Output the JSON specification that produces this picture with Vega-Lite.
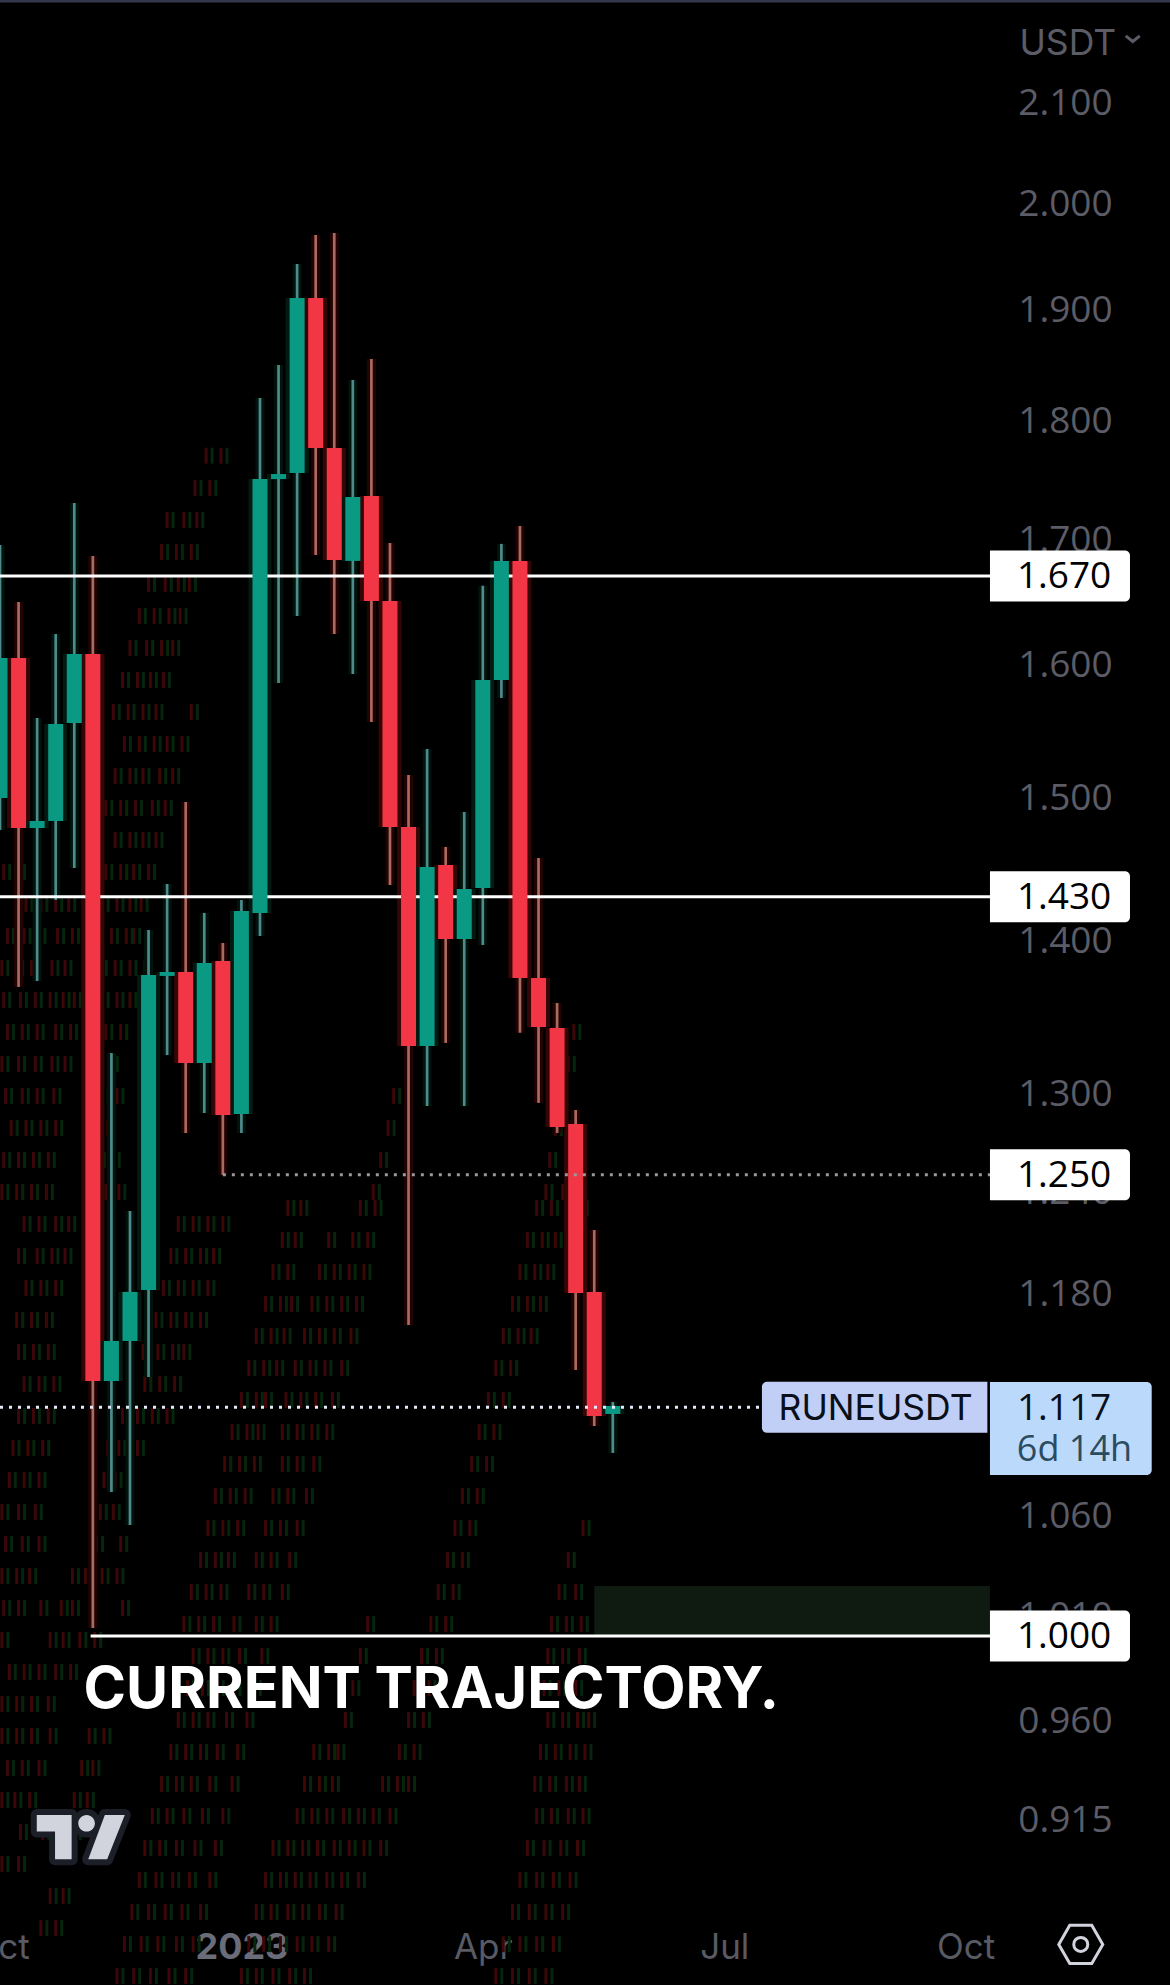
{
"$schema":"https://vega.github.io/schema/vega-lite/v6.json",
"width":1170,"height":1985,"autosize":{"type":"none"},"padding":0,"background":"#000000",
"config":{"view":{"stroke":null},"font":"Inter"},
"datasets":{
"ghost":[
{"price":1.770,"w":[11.1,11.9]},{"price":1.7426,"w":[10.5,11.3]},{"price":1.7158,"w":[9.0,9.9,10.6]},{"price":1.6895,"w":[8.7,9.5,10.3]},{"price":1.6636,"w":[8.0,8.9,9.6,10.2]},{"price":1.638,"w":[7.5,8.3,9.1,9.7]},{"price":1.6128,"w":[7.0,7.9,8.7,9.3]},{"price":1.588,"w":[6.6,7.4,8.1,8.8]},{"price":1.5636,"w":[6.1,6.9,7.7,8.4,10.3]},{"price":1.5396,"w":[6.7,7.5,8.3,9.0,9.8]},{"price":1.516,"w":[6.2,7.0,7.7,8.6,9.3]},{"price":1.4927,"w":[5.7,6.5,7.3,8.2,8.9]},{"price":1.4698,"w":[6.2,7.0,7.7,8.4]},{"price":1.4472,"w":[0.2,1.0,5.7,6.5,7.2,8.0]},{"price":1.425,"w":[1.4,2.2,3.0,3.7,5.5,6.3,7.0,7.6]},{"price":1.4031,"w":[0.4,1.3,2.1,3.1,3.9,6.0,6.8,7.2]},{"price":1.3815,"w":[0.1,0.9,1.7,2.8,3.5,5.4,6.2,7.0,7.8]},{"price":1.3603,"w":[0.2,1.1,1.9,2.7,3.4,4.0,5.5,6.3,7.0]},{"price":1.3394,"w":[0.4,1.2,2.0,3.0,3.8,5.7,6.5,30.9]},{"price":1.3188,"w":[0.1,1.0,1.9,2.8,3.5,5.2,6.0,30.6]},{"price":1.2986,"w":[0.3,1.2,2.0,2.9,5.5,6.3,21.2,30.1]},{"price":1.2786,"w":[0.6,1.4,2.2,3.0,5.0,5.8,20.9,29.9,30.8]},{"price":1.259,"w":[0.2,1.0,1.8,2.6,5.3,6.1,20.5,29.6,30.5]},{"price":1.2396,"w":[0.1,0.9,1.7,2.5,4.9,5.7,6.4,20.1,29.4,30.3]},{"price":1.2206,"w":[1.3,2.1,3.0,3.7,9.6,10.4,11.2,12.0]},{"price":1.2018,"w":[1.0,2.0,2.8,3.5,9.2,10.0,10.8,11.5]},{"price":1.1834,"w":[1.4,2.2,3.0,8.8,9.6,10.4,11.2]},{"price":1.1652,"w":[0.9,1.7,2.5,8.4,9.2,10.0,10.8]},{"price":1.1473,"w":[1.0,1.8,2.6,7.7,8.5,9.3,9.9]},{"price":1.1296,"w":[1.3,2.1,2.9,7.8,8.6,9.4]},{"price":1.1123,"w":[1.0,1.8,2.6,6.6,7.4,8.2,9.0]},{"price":1.0952,"w":[0.7,1.5,2.3,5.8,6.4,7.4]},{"price":1.0784,"w":[0.5,1.3,2.1,5.6,6.2]},{"price":1.0618,"w":[0.1,1.0,1.9,5.4,6.1]},{"price":1.0455,"w":[0.3,1.2,2.1,5.2,6.5]},{"price":1.0294,"w":[0.1,0.9,1.6,3.9,4.6,5.5,6.3]},{"price":1.0136,"w":[0.2,1.0,2.2,3.3,3.9,6.6]},{"price":0.9981,"w":[0.1,2.7,3.4,4.3,5.1]},{"price":0.9827,"w":[0.5,1.3,2.1,3.0,3.8]},{"price":0.9676,"w":[0.1,0.9,1.7,2.6]},{"price":0.9528,"w":[0.1,0.9,1.7,2.7,4.8,5.6]},{"price":0.9381,"w":[0.4,1.2,2.1,4.4,5.0]},{"price":0.9237,"w":[0.1,0.8,1.6,4.0,4.7]},{"price":0.9095,"w":[1.1,2.3,4.0]},{"price":0.8956,"w":[0.1,1.0]},{"price":0.8818,"w":[2.7,3.4]},{"price":0.8682,"w":[2.2,3.0]},
{"price":1.2301,"w":[15.5,16.2,19.4,20.2,28.9,29.7,30.6,31.3]},{"price":1.2112,"w":[15.2,15.9,17.7,19.0,19.8,28.4,29.2,29.9]},{"price":1.1926,"w":[14.7,15.5,17.2,18.0,18.8,19.6,28.0,28.8,29.5]},{"price":1.1743,"w":[14.3,15.1,15.7,16.8,17.6,18.4,19.2,27.6,28.4,29.1]},{"price":1.1562,"w":[13.8,14.6,15.3,16.4,17.2,18.0,18.9,27.1,27.9,28.6]},{"price":1.1384,"w":[13.4,14.2,14.9,15.9,16.7,17.5,18.4,26.7,27.5]},{"price":1.1209,"w":[13.0,13.8,14.3,15.4,16.2,17.0,17.9,26.3,27.1]},{"price":1.1037,"w":[12.5,13.3,13.9,15.2,16.0,16.8,17.6,25.8,26.6]},{"price":1.0868,"w":[12.1,12.9,13.7,15.2,16.0,16.9,25.4,26.2]},{"price":1.0701,"w":[11.6,12.4,13.2,14.7,15.5,16.5,24.9,25.7]},{"price":1.0536,"w":[11.2,12.0,12.8,14.3,15.1,16.0,24.5,25.3,31.4]},{"price":1.0374,"w":[10.8,11.6,12.3,13.8,14.6,15.6,24.1,24.9,30.6]},{"price":1.0215,"w":[10.3,11.1,11.9,13.4,14.2,15.2,23.6,24.4,30.1,31.0]},{"price":1.0058,"w":[9.9,10.7,11.5,12.6,13.8,14.6,19.8,23.2,24.0,29.7,30.5,31.3]},{"price":0.9904,"w":[10.4,11.2,12.0,12.9,14.1,19.4,22.7,23.5,29.5,30.3,31.2]},{"price":0.9751,"w":[10.1,10.9,11.7,12.6,13.7,19.0,22.3,23.1,29.3,30.1,31.0]},{"price":0.9602,"w":[9.6,10.4,11.2,12.2,13.3,18.6,22.0,22.8,29.5,30.3,31.1,31.7]},{"price":0.9454,"w":[9.2,10.0,10.8,11.7,12.8,16.9,17.7,18.2,21.5,22.3,29.1,29.9,30.7,31.5]},{"price":0.9309,"w":[8.7,9.5,10.3,11.3,12.5,16.4,17.2,17.9,20.6,21.4,22.0,28.8,29.6,30.5,31.2]},{"price":0.9166,"w":[8.2,9.0,9.9,10.9,12.0,16.0,16.8,17.6,18.5,19.3,20.1,21.0,28.9,29.7,30.6,31.4]},{"price":0.9025,"w":[7.8,8.6,9.5,10.5,11.6,14.7,15.5,16.3,17.1,18.0,18.8,19.6,20.5,28.4,29.3,30.2,31.1]},{"price":0.8887,"w":[7.5,8.4,9.3,10.2,11.3,14.3,15.1,15.9,16.7,17.6,18.4,19.3,28.0,28.9,29.8,30.7]},{"price":0.875,"w":[7.1,8.0,8.9,9.8,10.8,13.8,14.6,15.5,16.3,17.2,18.1,27.6,28.5,29.4,30.3]},{"price":0.8615,"w":[6.7,7.6,8.5,9.5,10.4,13.4,14.2,15.1,16.0,16.8,17.7,27.1,28.0,28.9,29.8]},{"price":0.8483,"w":[6.3,7.2,8.1,9.1,10.0,13.0,13.8,14.7,15.6,16.4,26.7,27.6,28.5,29.4]}
],
"candles":[
{"week":0,"open":1.4999,"high":1.6952,"low":1.4769,"close":1.6051},
{"week":1,"open":1.6051,"high":1.6491,"low":1.3689,"close":1.4783},
{"week":2,"open":1.4783,"high":1.5591,"low":1.3729,"close":1.4833},
{"week":3,"open":1.4833,"high":1.6238,"low":1.4277,"close":1.5546},
{"week":4,"open":1.5554,"high":1.73,"low":1.45,"close":1.6082},
{"week":5,"open":1.6082,"high":1.6862,"low":1.0039,"close":1.1313},
{"week":6,"open":1.1313,"high":1.3258,"low":1.0722,"close":1.1534},
{"week":7,"open":1.1534,"high":1.2283,"low":1.0552,"close":1.1811},
{"week":8,"open":1.1822,"high":1.4071,"low":1.1335,"close":1.3768},
{"week":9,"open":1.3762,"high":1.4388,"low":1.3245,"close":1.3788},
{"week":10,"open":1.3788,"high":1.497,"low":1.2755,"close":1.3194},
{"week":11,"open":1.3194,"high":1.4188,"low":1.2879,"close":1.3849},
{"week":12,"open":1.3862,"high":1.3983,"low":1.2499,"close":1.2867},
{"week":13,"open":1.2873,"high":1.4277,"low":1.2755,"close":1.4201},
{"week":14,"open":1.4188,"high":1.8201,"low":1.403,"close":1.7501},
{"week":15,"open":1.7501,"high":1.8495,"low":1.5858,"close":1.7544},
{"week":16,"open":1.7552,"high":1.9421,"low":1.638,"close":1.9104},
{"week":17,"open":1.9104,"high":1.9695,"low":1.6871,"close":1.7766},
{"week":18,"open":1.7766,"high":1.9714,"low":1.6238,"close":1.683},
{"week":19,"open":1.6822,"high":1.836,"low":1.5927,"close":1.735},
{"week":20,"open":1.7358,"high":1.8549,"low":1.5561,"close":1.6499},
{"week":21,"open":1.6499,"high":1.6969,"low":1.4381,"close":1.479},
{"week":22,"open":1.479,"high":1.5167,"low":1.1624,"close":1.3303},
{"week":23,"open":1.3303,"high":1.5359,"low":1.2923,"close":1.4507},
{"week":24,"open":1.4521,"high":1.4648,"low":1.3323,"close":1.401},
{"week":25,"open":1.401,"high":1.4898,"low":1.2923,"close":1.4353},
{"week":26,"open":1.436,"high":1.662,"low":1.397,"close":1.588},
{"week":27,"open":1.588,"high":1.6961,"low":1.5743,"close":1.6822},
{"week":28,"open":1.6822,"high":1.7109,"low":1.3388,"close":1.3748},
{"week":29,"open":1.3748,"high":1.457,"low":1.2942,"close":1.3426},
{"week":30,"open":1.342,"high":1.3583,"low":1.2755,"close":1.2792},
{"week":31,"open":1.2811,"high":1.2898,"low":1.1373,"close":1.1805},
{"week":32,"open":1.1811,"high":1.217,"low":1.1069,"close":1.1123},
{"week":33,"open":1.1134,"high":1.1199,"low":1.0926,"close":1.1177}
],
"solid":[{"start":0,"end":53.31,"price":1.67},{"start":0,"end":53.31,"price":1.43},{"start":4.88,"end":53.31,"price":1.0}],
"dotGray":[{"start":12,"end":53.31,"price":1.25}],
"dotBlue":[{"start":0,"end":41.03,"price":1.117}],
"boxes":[{"start":53.31,"end":60.85,"price":1.67,"mid":57.3},{"start":53.31,"end":60.85,"price":1.43,"mid":57.3},{"start":53.31,"end":60.85,"price":1.25,"mid":57.3},{"start":53.31,"end":60.85,"price":1.0,"mid":57.3}],
"zone":[{"start":32,"end":53.31,"low":1.0,"high":1.0245}]
},
"layer":[
{"data":{"name":"ghost"},"transform":[{"flatten":["w"]}],"mark":{"type":"tick","orient":"vertical","size":16,"thickness":3,"color":"#3c0707","opacity":1},
 "encoding":{"x":{"field":"w","type":"quantitative","title":null,"scale":{"domain":[0,63.005],"nice":false,"zero":false,"padding":0},
   "axis":{"orient":"bottom","offset":-38,"values":[0,13,26,39,52],"labelExpr":"datum.value==0?'Oct':datum.value==13?'2023':datum.value==26?'Apr':datum.value==39?'Jul':'Oct'","labelAlign":"center","labelBaseline":"middle","labelPadding":0,"ticks":false,"domain":false,"grid":false,"labelFont":"Inter","labelFontSize":{"condition":{"test":"datum.value==13","value":36},"value":35},"labelColor":{"condition":{"test":"datum.value==13","value":"#6a6c79"},"value":"#585a64"},"labelFontWeight":{"condition":{"test":"datum.value==13","value":"bold"},"value":"normal"},"labelOverlap":false,"labelFlush":false,"labelBound":false,"title":null}},
   "y":{"field":"price","type":"quantitative","title":null,"scale":{"type":"log","domain":[0.84464,2.2066],"nice":false,"zero":false,"padding":0},
   "axis":{"orient":"right","offset":-105,"values":[2.1,2.0,1.9,1.8,1.7,1.6,1.5,1.4,1.3,1.24,1.18,1.06,1.01,0.96,0.915],"format":".3f","labelAlign":"center","labelBaseline":"middle","labelPadding":0,"labelOffset":1,"ticks":false,"domain":false,"grid":false,"labelFont":"Open Sans","labelFontSize":37,"labelColor":"#5b5c66","labelOverlap":false,"labelFlush":false,"labelBound":false,"title":null}}}},
{"data":{"name":"ghost"},"transform":[{"flatten":["w"]}],"mark":{"type":"tick","orient":"vertical","size":16,"thickness":3,"color":"#06250c","opacity":1,"xOffset":6},
 "encoding":{"x":{"field":"w","type":"quantitative","title":null,"scale":{"domain":[0,63.005],"nice":false,"zero":false,"padding":0}},
  "y":{"field":"price","type":"quantitative","title":null,"scale":{"type":"log","domain":[0.84464,2.2066],"nice":false,"zero":false,"padding":0}}}},
{"data":{"name":"zone"},"mark":{"type":"rect","color":"#0f1a10"},
 "encoding":{"x":{"field":"start","type":"quantitative","title":null,"scale":{"domain":[0,63.005],"nice":false,"zero":false,"padding":0}},"x2":{"field":"end"},
  "y":{"field":"low","type":"quantitative","title":null,"scale":{"type":"log","domain":[0.84464,2.2066],"nice":false,"zero":false,"padding":0}},"y2":{"field":"high"}}},
{"data":{"name":"candles"},"mark":{"type":"rule","strokeWidth":9},
 "encoding":{"x":{"field":"week","type":"quantitative","title":null,"scale":{"domain":[0,63.005],"nice":false,"zero":false,"padding":0}},
  "y":{"field":"low","type":"quantitative","title":null,"scale":{"type":"log","domain":[0.84464,2.2066],"nice":false,"zero":false,"padding":0}},"y2":{"field":"high"},
  "color":{"condition":{"test":"datum.close>=datum.open","value":"#01130a"},"value":"#220303"}}},
{"data":{"name":"candles"},"mark":{"type":"bar","width":23,"orient":"vertical"},
 "encoding":{"x":{"field":"week","type":"quantitative","title":null,"scale":{"domain":[0,63.005],"nice":false,"zero":false,"padding":0}},
  "y":{"field":"open","type":"quantitative","title":null,"scale":{"type":"log","domain":[0.84464,2.2066],"nice":false,"zero":false,"padding":0}},"y2":{"field":"close"},
  "color":{"condition":{"test":"datum.close>=datum.open","value":"#021a12"},"value":"#360606"}}},
{"data":{"name":"candles"},"mark":{"type":"rule","strokeWidth":2.7},
 "encoding":{"x":{"field":"week","type":"quantitative","title":null,"scale":{"domain":[0,63.005],"nice":false,"zero":false,"padding":0}},
  "y":{"field":"low","type":"quantitative","title":null,"scale":{"type":"log","domain":[0.84464,2.2066],"nice":false,"zero":false,"padding":0}},"y2":{"field":"high"},
  "color":{"condition":{"test":"datum.close>=datum.open","value":"#4f8a8c"},"value":"#a96a5f"}}},
{"data":{"name":"solid"},"mark":{"type":"rule","strokeWidth":3,"color":"#ffffff"},
 "encoding":{"x":{"field":"start","type":"quantitative","title":null,"scale":{"domain":[0,63.005],"nice":false,"zero":false,"padding":0}},"x2":{"field":"end"},
  "y":{"field":"price","type":"quantitative","title":null,"scale":{"type":"log","domain":[0.84464,2.2066],"nice":false,"zero":false,"padding":0}}}},
{"data":{"name":"candles"},"mark":{"type":"bar","width":15,"orient":"vertical"},
 "encoding":{"x":{"field":"week","type":"quantitative","title":null,"scale":{"domain":[0,63.005],"nice":false,"zero":false,"padding":0}},
  "y":{"field":"open","type":"quantitative","title":null,"scale":{"type":"log","domain":[0.84464,2.2066],"nice":false,"zero":false,"padding":0}},"y2":{"field":"close"},
  "color":{"condition":{"test":"datum.close>=datum.open","value":"#0a9a84"},"value":"#F23645"}}},
{"data":{"name":"dotGray"},"mark":{"type":"rule","strokeWidth":3,"color":"#9a9a9a","strokeDash":[3,6]},
 "encoding":{"x":{"field":"start","type":"quantitative","title":null,"scale":{"domain":[0,63.005],"nice":false,"zero":false,"padding":0}},"x2":{"field":"end"},
  "y":{"field":"price","type":"quantitative","title":null,"scale":{"type":"log","domain":[0.84464,2.2066],"nice":false,"zero":false,"padding":0}}}},
{"data":{"name":"dotBlue"},"mark":{"type":"rule","strokeWidth":3,"color":"#e3e9fb","strokeDash":[3,6]},
 "encoding":{"x":{"field":"start","type":"quantitative","title":null,"scale":{"domain":[0,63.005],"nice":false,"zero":false,"padding":0}},"x2":{"field":"end"},
  "y":{"field":"price","type":"quantitative","title":null,"scale":{"type":"log","domain":[0.84464,2.2066],"nice":false,"zero":false,"padding":0}}}},
{"data":{"name":"boxes"},"mark":{"type":"bar","orient":"horizontal","height":51,"color":"#ffffff","cornerRadiusTopRight":5,"cornerRadiusBottomRight":5},
 "encoding":{"x":{"field":"start","type":"quantitative","title":null,"scale":{"domain":[0,63.005],"nice":false,"zero":false,"padding":0}},"x2":{"field":"end"},
  "y":{"field":"price","type":"quantitative","title":null,"scale":{"type":"log","domain":[0.84464,2.2066],"nice":false,"zero":false,"padding":0}}}},
{"data":{"name":"boxes"},"mark":{"type":"text","font":"Open Sans","fontSize":37,"color":"#000000","align":"center","baseline":"middle","dy":1},
 "encoding":{"x":{"field":"mid","type":"quantitative","title":null,"scale":{"domain":[0,63.005],"nice":false,"zero":false,"padding":0}},
  "y":{"field":"price","type":"quantitative","title":null,"scale":{"type":"log","domain":[0.84464,2.2066],"nice":false,"zero":false,"padding":0}},
  "text":{"field":"price","type":"quantitative","format":".3f"}}},
{"data":{"values":[{"start":41.03,"end":53.17,"price":1.117}]},"mark":{"type":"bar","orient":"horizontal","height":51,"color":"#c1cff7","cornerRadiusTopLeft":5,"cornerRadiusBottomLeft":5},
 "encoding":{"x":{"field":"start","type":"quantitative","title":null,"scale":{"domain":[0,63.005],"nice":false,"zero":false,"padding":0}},"x2":{"field":"end"},
  "y":{"field":"price","type":"quantitative","title":null,"scale":{"type":"log","domain":[0.84464,2.2066],"nice":false,"zero":false,"padding":0}}}},
{"data":{"values":[{"start":53.31,"end":62.02,"price":1.1056}]},"mark":{"type":"bar","orient":"horizontal","height":93,"color":"#bbd9fb","cornerRadiusTopRight":5,"cornerRadiusBottomRight":5},
 "encoding":{"x":{"field":"start","type":"quantitative","title":null,"scale":{"domain":[0,63.005],"nice":false,"zero":false,"padding":0}},"x2":{"field":"end"},
  "y":{"field":"price","type":"quantitative","title":null,"scale":{"type":"log","domain":[0.84464,2.2066],"nice":false,"zero":false,"padding":0}}}},
{"data":{"values":[{"week":47.15,"price":1.117,"label":"RUNEUSDT"}]},"mark":{"type":"text","font":"Inter","fontSize":35.5,"color":"#0a0f1a","align":"center","baseline":"middle","dy":2},
 "encoding":{"x":{"field":"week","type":"quantitative","title":null,"scale":{"domain":[0,63.005],"nice":false,"zero":false,"padding":0}},
  "y":{"field":"price","type":"quantitative","title":null,"scale":{"type":"log","domain":[0.84464,2.2066],"nice":false,"zero":false,"padding":0}},"text":{"field":"label"}}},
{"data":{"values":[{"week":57.3,"price":1.117,"label":"1.117"}]},"mark":{"type":"text","font":"Open Sans","fontSize":37,"color":"#0a0f1a","align":"center","baseline":"middle","dy":2},
 "encoding":{"x":{"field":"week","type":"quantitative","title":null,"scale":{"domain":[0,63.005],"nice":false,"zero":false,"padding":0}},
  "y":{"field":"price","type":"quantitative","title":null,"scale":{"type":"log","domain":[0.84464,2.2066],"nice":false,"zero":false,"padding":0}},"text":{"field":"label"}}},
{"data":{"values":[{"week":57.86,"price":1.0942,"label":"6d 14h"}]},"mark":{"type":"text","font":"Open Sans","fontSize":36,"color":"#2b4b5f","align":"center","baseline":"middle"},
 "encoding":{"x":{"field":"week","type":"quantitative","title":null,"scale":{"domain":[0,63.005],"nice":false,"zero":false,"padding":0}},
  "y":{"field":"price","type":"quantitative","title":null,"scale":{"type":"log","domain":[0.84464,2.2066],"nice":false,"zero":false,"padding":0}},"text":{"field":"label"}}},
{"data":{"values":[{"week":57.5,"price":2.1624,"label":"USDT"}]},"mark":{"type":"text","font":"Inter","fontSize":35.5,"color":"#5b5c66","align":"center","baseline":"middle","dy":2},
 "encoding":{"x":{"field":"week","type":"quantitative","title":null,"scale":{"domain":[0,63.005],"nice":false,"zero":false,"padding":0}},
  "y":{"field":"price","type":"quantitative","title":null,"scale":{"type":"log","domain":[0.84464,2.2066],"nice":false,"zero":false,"padding":0}},"text":{"field":"label"}}},
{"data":{"values":[{"week":61,"price":2.1657}]},"mark":{"type":"point","shape":"M-1,-0.4L0,0.4L1,-0.4","size":196,"filled":false,"strokeWidth":3,"color":"#5b5c66","opacity":1},
 "encoding":{"x":{"field":"week","type":"quantitative","title":null,"scale":{"domain":[0,63.005],"nice":false,"zero":false,"padding":0}},
  "y":{"field":"price","type":"quantitative","title":null,"scale":{"type":"log","domain":[0.84464,2.2066],"nice":false,"zero":false,"padding":0}}}},
{"data":{"values":[{"week":0,"end":63.005,"price":2.2066}]},"mark":{"type":"rule","strokeWidth":5,"color":"#34364a"},
 "encoding":{"x":{"field":"week","type":"quantitative","title":null,"scale":{"domain":[0,63.005],"nice":false,"zero":false,"padding":0}},"x2":{"field":"end"},
  "y":{"field":"price","type":"quantitative","title":null,"scale":{"type":"log","domain":[0.84464,2.2066],"nice":false,"zero":false,"padding":0}}}},
{"data":{"values":[{"week":4.5,"price":0.9737,"label":"CURRENT TRAJECTORY."}]},"mark":{"type":"text","font":"Inter","fontWeight":700,"fontSize":57.5,"color":"#ffffff","align":"left","baseline":"middle"},
 "encoding":{"x":{"field":"week","type":"quantitative","title":null,"scale":{"domain":[0,63.005],"nice":false,"zero":false,"padding":0}},
  "y":{"field":"price","type":"quantitative","title":null,"scale":{"type":"log","domain":[0.84464,2.2066],"nice":false,"zero":false,"padding":0}},"text":{"field":"label"}}},
{"data":{"values":[{"week":4.35,"price":0.9073}]},"mark":{"type":"point","shape":"M-1,-0.502L-0.208,-0.502L-0.208,0.502L-0.585,0.502L-0.585,-0.125L-1,-0.125ZM0.547,-0.502L1,-0.502L0.6,0.502L0.17,0.502ZM-0.057,-0.313a0.189,0.189 0 1,0 0.378,0a0.189,0.189 0 1,0 -0.378,0Z","size":7744,"filled":true,"fill":"#1c1f28","stroke":"#1c1f28","strokeWidth":12,"strokeJoin":"round","opacity":1},
 "encoding":{"x":{"field":"week","type":"quantitative","title":null,"scale":{"domain":[0,63.005],"nice":false,"zero":false,"padding":0}},
  "y":{"field":"price","type":"quantitative","title":null,"scale":{"type":"log","domain":[0.84464,2.2066],"nice":false,"zero":false,"padding":0}}}},
{"data":{"values":[{"week":4.35,"price":0.9073}]},"mark":{"type":"point","shape":"M-1,-0.502L-0.208,-0.502L-0.208,0.502L-0.585,0.502L-0.585,-0.125L-1,-0.125ZM0.547,-0.502L1,-0.502L0.6,0.502L0.17,0.502ZM-0.057,-0.313a0.189,0.189 0 1,0 0.378,0a0.189,0.189 0 1,0 -0.378,0Z","size":7744,"filled":true,"fill":"#d1d4dc","strokeWidth":0,"opacity":1},
 "encoding":{"x":{"field":"week","type":"quantitative","title":null,"scale":{"domain":[0,63.005],"nice":false,"zero":false,"padding":0}},
  "y":{"field":"price","type":"quantitative","title":null,"scale":{"type":"log","domain":[0.84464,2.2066],"nice":false,"zero":false,"padding":0}}}},
{"data":{"values":[{"week":58.2,"price":0.8614}]},"mark":{"type":"point","shape":"M-1,0L-0.5,-0.866L0.5,-0.866L1,0L0.5,0.866L-0.5,0.866Z","size":1936,"filled":false,"strokeWidth":3,"color":"#d1d4dc","opacity":1},
 "encoding":{"x":{"field":"week","type":"quantitative","title":null,"scale":{"domain":[0,63.005],"nice":false,"zero":false,"padding":0}},
  "y":{"field":"price","type":"quantitative","title":null,"scale":{"type":"log","domain":[0.84464,2.2066],"nice":false,"zero":false,"padding":0}}}},
{"data":{"values":[{"week":58.2,"price":0.8614}]},"mark":{"type":"point","shape":"circle","size":196,"filled":false,"strokeWidth":3,"color":"#d1d4dc","opacity":1},
 "encoding":{"x":{"field":"week","type":"quantitative","title":null,"scale":{"domain":[0,63.005],"nice":false,"zero":false,"padding":0}},
  "y":{"field":"price","type":"quantitative","title":null,"scale":{"type":"log","domain":[0.84464,2.2066],"nice":false,"zero":false,"padding":0}}}}
]
}
